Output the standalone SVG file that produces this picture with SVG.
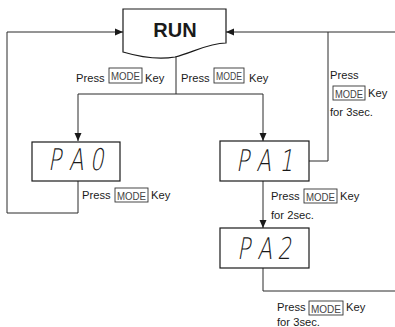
<svg xmlns="http://www.w3.org/2000/svg" width="395" height="327" viewBox="0 0 395 327">
<style>
.ln{fill:none;stroke:#2a2a2a;stroke-width:1}
.box{fill:#fff;stroke:#1a1a1a;stroke-width:1.2}
.lbl{font-family:"Liberation Sans",Arial,sans-serif;font-size:11.2px;fill:#1a1a1a}
.key{fill:#fff;stroke:#333;stroke-width:0.9}
.keyt{font-family:"Liberation Sans",Arial,sans-serif;font-size:11px;fill:#444}
.seg{font-family:"DejaVu Sans","Liberation Sans",sans-serif;font-size:30px;font-weight:200;fill:#1a1a1a}
</style>
<defs>
<marker id="ah" markerWidth="8" markerHeight="8" refX="8" refY="4" orient="auto" markerUnits="userSpaceOnUse">
<path d="M0,0.5 L8,4 L0,7.5 Z" fill="#1a1a1a"/>
</marker>
</defs>
<g id="connectors">
<path class="ln" d="M176,56 V94 M78,94 H263" />
<path class="ln" d="M78,94 V141" marker-end="url(#ah)"/>
<path class="ln" d="M263,94 V141" marker-end="url(#ah)"/>
<path class="ln" d="M78,181 V213 H7 V32 H123" marker-end="url(#ah)"/>
<path class="ln" d="M309,161 H328 V32" />
<path class="ln" d="M395,32 H226" marker-end="url(#ah)"/>
<path class="ln" d="M263,181 V228" marker-end="url(#ah)"/>
<path class="ln" d="M263,268 V291 H395" />
</g>
<g id="run">
<path class="box" d="M123,9 H226 V43 C208,43 192,53 175,57 C158,60 140,57 123,52 Z"/>
<text x="175" y="37" text-anchor="middle" style="font-family:'Liberation Sans',Arial,sans-serif;font-size:20px;font-weight:bold;fill:#1a1a1a">RUN</text>
</g>
<g id="pa0">
<rect class="box" x="32" y="142" width="88" height="39"/>
<text class="seg" transform="translate(48,170) skewX(-10) scale(0.72,1)" x="0 29 58" y="0">PA0</text>
</g>
<g id="pa1">
<rect class="box" x="220" y="141" width="89" height="40"/>
<text class="seg" transform="translate(236,171) skewX(-10) scale(0.72,1)" x="0 28 60" y="0">PA1</text>
</g>
<g id="pa2">
<rect class="box" x="220" y="228" width="89" height="40"/>
<text class="seg" transform="translate(237,259) skewX(-10) scale(0.72,1)" x="0 28 56" y="0">PA2</text>
</g>
<g id="label-run-pa0">
<text class="lbl" x="76" y="82">Press</text>
<rect class="key" x="109" y="68" width="33" height="15"/>
<text class="keyt" x="111" y="80" textLength="29" lengthAdjust="spacingAndGlyphs">MODE</text>
<text class="lbl" x="145" y="82">Key</text>
</g>
<g id="label-run-pa1">
<text class="lbl" x="181" y="82">Press</text>
<rect class="key" x="214" y="68" width="30" height="15"/>
<text class="keyt" x="216" y="80" textLength="26" lengthAdjust="spacingAndGlyphs">MODE</text>
<text class="lbl" x="249" y="82">Key</text>
</g>
<g id="label-pa1-run">
<text class="lbl" x="330" y="79">Press</text>
<rect class="key" x="333" y="86" width="32" height="14"/>
<text class="keyt" x="335" y="97.5" textLength="28" lengthAdjust="spacingAndGlyphs">MODE</text>
<text class="lbl" x="368" y="97">Key</text>
<text class="lbl" x="330" y="116">for 3sec.</text>
</g>
<g id="label-pa0-run">
<text class="lbl" x="82" y="199">Press</text>
<rect class="key" x="115" y="188" width="33" height="14"/>
<text class="keyt" x="117" y="199.5" textLength="29" lengthAdjust="spacingAndGlyphs">MODE</text>
<text class="lbl" x="151" y="199">Key</text>
</g>
<g id="label-pa1-pa2">
<text class="lbl" x="271" y="200">Press</text>
<rect class="key" x="304" y="189" width="33" height="14"/>
<text class="keyt" x="306" y="200.5" textLength="29" lengthAdjust="spacingAndGlyphs">MODE</text>
<text class="lbl" x="340" y="200">Key</text>
<text class="lbl" x="271" y="219">for 2sec.</text>
</g>
<g id="label-pa2-run">
<text class="lbl" x="277" y="311">Press</text>
<rect class="key" x="309" y="301" width="34" height="14"/>
<text class="keyt" x="311" y="312.5" textLength="30" lengthAdjust="spacingAndGlyphs">MODE</text>
<text class="lbl" x="346" y="311">Key</text>
<text class="lbl" x="277" y="326">for 3sec.</text>
</g>
</svg>
